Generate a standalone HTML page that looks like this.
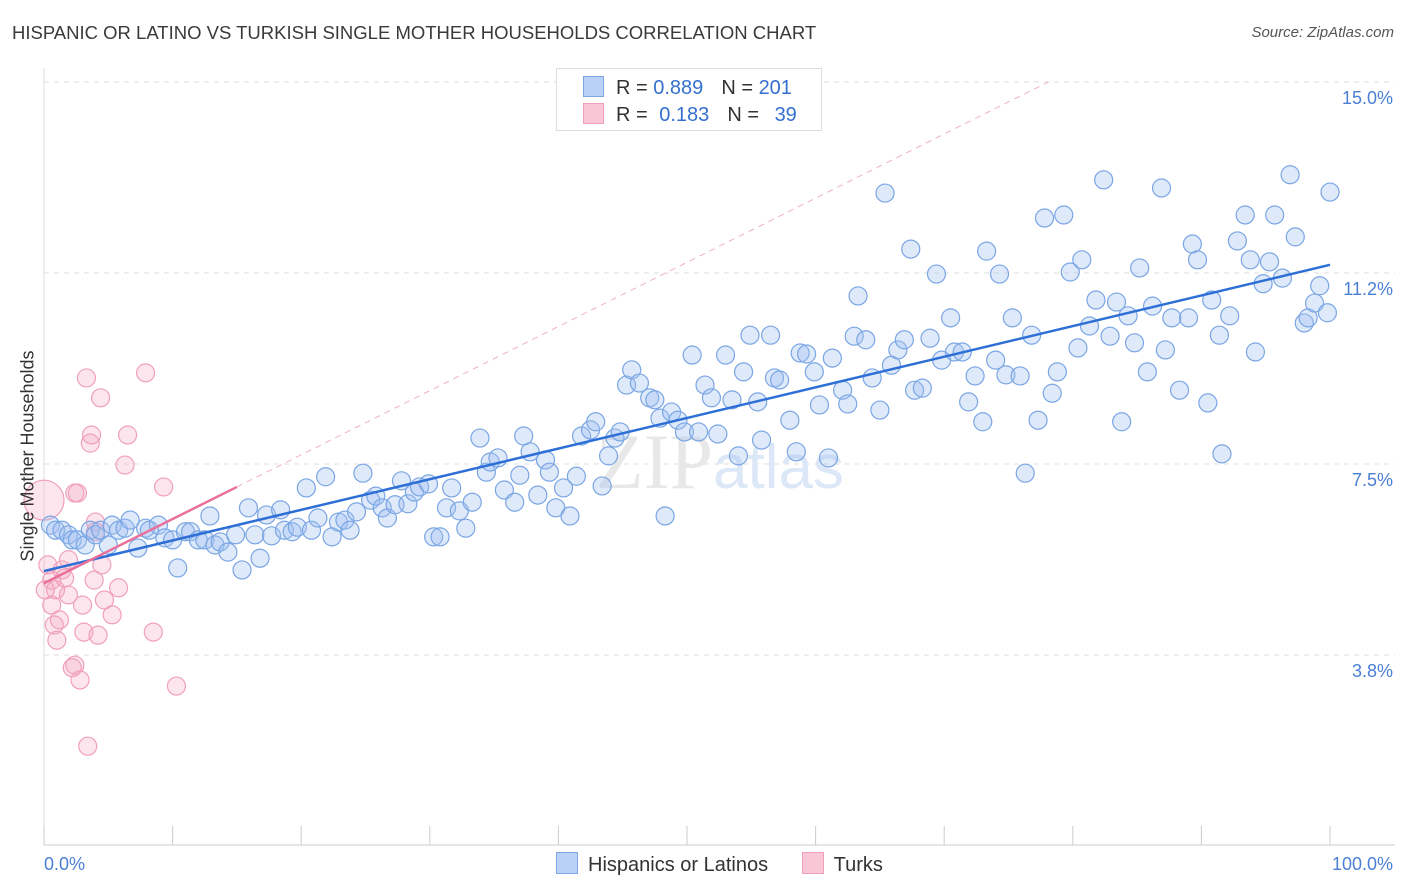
<!DOCTYPE html>
<html><head><meta charset="utf-8">
<style>
body{margin:0;background:#fff;font-family:"Liberation Sans",sans-serif;}
#wrap{position:relative;width:1406px;height:892px;overflow:hidden;}
.t{position:absolute;white-space:nowrap;}
</style></head>
<body>
<div id="wrap">
<div class="t" style="left:12px;top:22px;font-size:18.5px;color:#3a3a3a;">HISPANIC OR LATINO VS TURKISH SINGLE MOTHER HOUSEHOLDS CORRELATION CHART</div>
<div class="t" style="right:12px;top:24px;font-size:15px;color:#555;font-style:italic;">Source: ZipAtlas.com</div>
<svg id="svg" width="1406" height="892" style="position:absolute;left:0;top:0;"></svg>
<div class="t" style="left:556px;top:68px;width:264px;height:61px;border:1px solid #ddd;background:#fff;font-size:20px;color:#333;">
  <div style="position:absolute;left:26px;top:7px;"><span style="display:inline-block;width:19px;height:19px;background:#b9d1f5;border:1px solid #7ea6e0;vertical-align:-3px;"></span><span style="margin-left:12px;">R = </span><span style="color:#3570d0;">0.889</span><span style="margin-left:18px;">N = </span><span style="color:#3570d0;">201</span></div>
  <div style="position:absolute;left:26px;top:34px;"><span style="display:inline-block;width:19px;height:19px;background:#f9c6d6;border:1px solid #f0a0bc;vertical-align:-3px;"></span><span style="margin-left:12px;">R = </span><span style="color:#3570d0;margin-left:6px;">0.183</span><span style="margin-left:18px;">N = </span><span style="color:#3570d0;margin-left:10px;">39</span></div>
</div>
<div class="t" style="left:28px;top:456px;font-size:18px;color:#333;transform:translate(-50%,-50%) rotate(-90deg);">Single Mother Households</div>
<div class="t" style="left:556px;top:852px;font-size:20px;color:#333;">
  <span><span style="display:inline-block;width:20px;height:20px;background:#b9d1f5;border:1px solid #7ea6e0;vertical-align:-3px;margin-right:10px;"></span>Hispanics or Latinos</span>
  <span style="margin-left:28px;"><span style="display:inline-block;width:20px;height:20px;background:#f9c6d6;border:1px solid #f0a0bc;vertical-align:-3px;margin-right:10px;"></span>Turks</span>
</div>
</div>
<script>
const blueX=[0.5,0.9,1.4,1.9,2.2,2.6,3.2,3.6,4.0,4.4,5.0,5.3,5.8,6.3,6.7,7.3,7.9,8.2,8.9,9.4,10.0,10.4,11.0,11.4,12.0,12.5,12.9,13.3,13.7,14.3,14.9,15.4,15.9,16.4,16.8,17.3,17.7,18.4,18.7,19.3,19.7,20.4,20.8,21.3,21.9,22.4,22.9,23.4,23.8,24.3,24.8,25.4,25.8,26.3,26.7,27.3,27.8,28.3,28.8,29.2,29.9,30.3,30.8,31.3,31.7,32.3,32.8,33.3,33.9,34.4,34.7,35.3,35.8,36.6,37.0,37.3,37.8,38.4,39.0,39.3,39.8,40.4,40.9,41.4,41.8,42.5,42.9,43.4,43.9,44.4,44.8,45.3,45.7,46.3,47.1,47.5,47.9,48.3,48.8,49.3,49.8,50.4,50.9,51.4,51.9,52.4,53.0,53.5,54.0,54.4,54.9,55.5,55.8,56.5,56.8,57.2,58.0,58.5,58.8,59.3,59.9,60.3,61.0,61.3,62.1,62.5,63.0,63.3,63.9,64.4,65.0,65.4,65.9,66.4,66.9,67.4,67.7,68.3,68.9,69.4,69.8,70.5,70.8,71.4,71.9,72.4,73.0,73.3,74.0,74.3,74.8,75.3,75.9,76.3,76.8,77.3,77.8,78.4,78.8,79.3,79.8,80.4,80.7,81.3,81.8,82.4,82.9,83.4,83.8,84.3,84.8,85.2,85.8,86.2,86.9,87.2,87.7,88.3,89.0,89.3,89.7,90.5,90.8,91.4,91.6,92.2,92.8,93.4,93.8,94.2,94.8,95.3,95.7,96.3,96.9,97.3,98.0,98.3,98.8,99.2,99.8,100];
const blueY=[6.30,6.20,6.20,6.11,6.01,6.01,5.91,6.20,6.11,6.20,5.91,6.30,6.20,6.24,6.40,5.85,6.24,6.20,6.30,6.05,6.01,5.46,6.17,6.17,6.01,6.01,6.48,5.91,5.97,5.77,6.11,5.42,6.64,6.11,5.65,6.50,6.09,6.60,6.20,6.17,6.26,7.03,6.20,6.44,7.25,6.07,6.36,6.40,6.20,6.56,7.32,6.79,6.87,6.64,6.44,6.70,7.17,6.72,6.95,7.05,7.11,6.07,6.07,6.64,7.03,6.58,6.24,6.75,8.01,7.34,7.54,7.62,6.99,6.75,7.28,8.05,7.74,6.89,7.58,7.34,6.64,7.03,6.48,7.26,8.05,8.17,8.33,7.07,7.66,8.01,8.13,9.05,9.35,9.09,8.80,8.76,8.40,6.48,8.52,8.36,8.13,9.64,8.13,9.05,8.80,8.09,9.64,8.76,7.66,9.31,10.03,8.72,7.97,10.03,9.19,9.15,8.36,7.74,9.68,9.66,9.31,8.66,7.62,9.58,8.95,8.68,10.01,10.80,9.94,9.19,8.56,12.82,9.44,9.74,9.94,11.72,8.95,8.99,9.97,11.23,9.54,10.37,9.70,9.70,8.72,9.23,8.33,11.68,9.54,11.23,9.25,10.37,9.23,7.32,10.03,8.36,12.33,8.89,9.31,12.39,11.27,9.78,11.51,10.21,10.72,13.08,10.01,10.68,8.33,10.41,9.88,11.35,9.31,10.60,12.92,9.74,10.37,8.95,10.37,11.82,11.51,8.70,10.72,10.03,7.70,10.41,11.88,12.39,11.51,9.70,11.04,11.47,12.39,11.15,13.18,11.96,10.27,10.37,10.66,11.00,10.47,12.84];
const pinkX=[0.0,0.3,0.6,0.9,0.6,0.8,1.0,1.2,1.4,1.6,1.9,1.9,2.2,2.4,2.4,2.6,2.8,3.0,3.1,3.3,3.4,3.6,3.7,3.9,4.0,4.2,4.4,4.5,4.7,5.3,5.8,6.3,6.5,7.9,8.5,9.3,10.3,0.1,4.0];
const pinkY=[6.79,5.52,5.22,5.03,4.73,4.34,4.04,4.44,5.42,5.26,4.93,5.62,3.50,3.55,6.93,6.93,3.26,4.73,4.20,9.19,1.96,7.91,8.07,5.22,6.36,4.14,8.80,5.52,4.83,4.54,5.07,7.48,8.07,9.29,4.20,7.05,3.14,5.03,6.17];
const pinkR=[20,9,9,9,9,9,9,9,9,9,9,9,9,9,9,9,9,9,9,9,9,9,9,9,9,9,9,9,9,9,9,9,9,9,9,9,9,9,9];
const pinkFit=[5.16,0.126]; // intercept, slope
const yTicks=[15.0,11.2,7.5,3.8];
const yTickVals=[15,11.25,7.5,3.75];
const xTickVals=[0,10,20,30,40,50,60,70,80,90,100];

const X0=44,X1=1330,Y0=846,YPX=50.93;
const sx=v=>X0+(X1-X0)*v/100;
const sy=v=>Y0-v*YPX;
const svg=document.getElementById('svg');
const NS='http://www.w3.org/2000/svg';
function mk(tag,at){const e=document.createElementNS(NS,tag);for(const k in at)e.setAttribute(k,at[k]);svg.appendChild(e);return e;}

yTickVals.forEach((v,i)=>{
  const g=mk('line',{x1:X0,x2:1395,y1:sy(v),y2:sy(v),stroke:'#ddd','stroke-dasharray':'5,5','stroke-width':1});
  
  
  const t=mk('text',{x:1393,y:sy(v)+22,'text-anchor':'end','font-size':18,fill:'#4a7fd4','font-family':'Liberation Sans, sans-serif'});
  t.textContent=yTicks[i].toFixed(1)+'%';
  
  
});
const ax=mk('line',{x1:X0,x2:1395,y1:845,y2:845,stroke:'#ccc','stroke-width':1});


const ay=mk('line',{x1:X0,x2:X0,y1:68,y2:845,stroke:'#ddd','stroke-width':1});


xTickVals.forEach(v=>{
  const l=mk('line',{x1:sx(v),x2:sx(v),y1:826,y2:845,stroke:'#ccc','stroke-width':1});
  
  
});
[[0,'start','0.0%'],[100,'end','100.0%']].forEach(a=>{
  const t=mk('text',{x:a[0]===0?X0:1393,y:870,'text-anchor':a[1],'font-size':18,fill:'#4a7fd4','font-family':'Liberation Sans, sans-serif'});
  t.textContent=a[2];
  
  
});
const wm=mk('text',{x:720,y:488,'text-anchor':'middle','font-size':78,fill:'#e8e8e8','font-family':'Liberation Serif, serif'});
wm.innerHTML='ZIP<tspan fill="#dce8f7" font-family="Liberation Sans, sans-serif" font-size="62">atlas</tspan>';



pinkX.forEach((x,i)=>{
  const c=mk('circle',{cx:sx(x),cy:sy(pinkY[i]),r:pinkR[i],fill:'rgba(246,170,196,0.3)',stroke:'#f0a0bc','stroke-width':1.2});
  
  
});
blueX.forEach((x,i)=>{
  const c=mk('circle',{cx:sx(x),cy:sy(blueY[i]),r:9,fill:'rgba(160,192,240,0.35)',stroke:'#7aa6e4','stroke-width':1.2});
  
  
});
const n=blueX.length;const mx=blueX.reduce((a,b)=>a+b)/n,my=blueY.reduce((a,b)=>a+b)/n;
let sxy=0,sxx=0;blueX.forEach((x,i)=>{sxy+=(x-mx)*(blueY[i]-my);sxx+=(x-mx)*(x-mx);});
const bs=sxy/sxx,bi=my-bs*mx;
const bl=mk('line',{x1:sx(0),y1:sy(bi),x2:sx(100),y2:sy(bi+bs*100),stroke:'#2d6fd6','stroke-width':2.5});


const xEnd=(15-pinkFit[0])/pinkFit[1];
const pd=mk('line',{x1:sx(15),y1:sy(pinkFit[0]+pinkFit[1]*15),x2:sx(xEnd),y2:sy(15),stroke:'#f0b0c6','stroke-width':1,'stroke-dasharray':'6,5'});


const pl=mk('line',{x1:sx(0),y1:sy(pinkFit[0]),x2:sx(15),y2:sy(pinkFit[0]+pinkFit[1]*15),stroke:'#e8709a','stroke-width':2.5});


</script>
</body></html>
